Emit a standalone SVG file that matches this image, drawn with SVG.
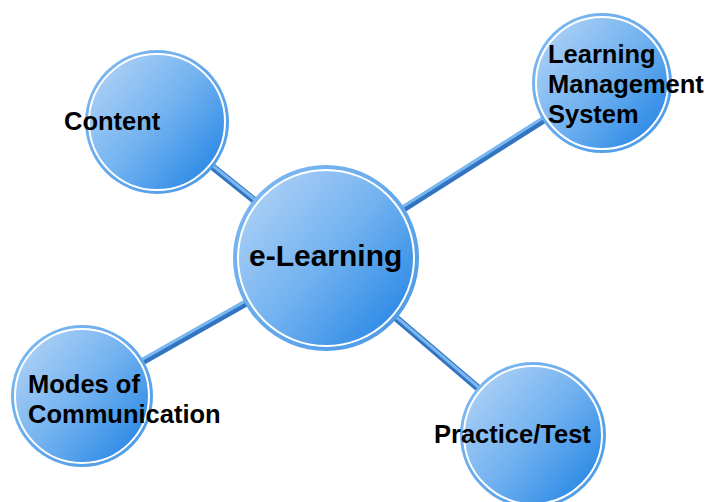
<svg xmlns="http://www.w3.org/2000/svg" width="707" height="502" viewBox="0 0 707 502">
<defs>
<linearGradient id="fillg" x1="0.1" y1="0.15" x2="0.9" y2="0.85">
<stop offset="0" stop-color="#a8cef5"/>
<stop offset="0.5" stop-color="#72b2f0"/>
<stop offset="1" stop-color="#2f8be6"/>
</linearGradient>
<linearGradient id="ringg" x1="0" y1="0" x2="1" y2="1">
<stop offset="0" stop-color="#82bbf2"/>
<stop offset="1" stop-color="#4898e6"/>
</linearGradient>
<style>
.ring{fill:url(#ringg);}
.inner{fill:url(#fillg);stroke:#ffffff;stroke-width:2;}
.lbl{font-family:"Liberation Sans",Arial,sans-serif;font-weight:bold;fill:#000000;font-size:25.5px;}
.edge-o{stroke:#3274bf;stroke-width:7;stroke-linecap:butt;}
.edge-i{stroke:#7ab8f2;stroke-width:3;stroke-linecap:butt;}
</style>
</defs>
<rect width="707" height="502" fill="#ffffff"/>
<g id="connectors">
<line class="edge-o" x1="326" y1="258" x2="157" y2="122"/>
<line class="edge-o" x1="326" y1="258" x2="602" y2="83"/>
<line class="edge-o" x1="326" y1="258" x2="82" y2="396"/>
<line class="edge-o" x1="326" y1="258" x2="533" y2="435"/>
<line class="edge-i" x1="325" y1="256" x2="156" y2="120"/>
<line class="edge-i" x1="325" y1="256" x2="601" y2="81"/>
<line class="edge-i" x1="325" y1="256" x2="81" y2="394"/>
<line class="edge-i" x1="325" y1="256" x2="532" y2="433"/>
</g>
<g id="content">
<circle class="ring" cx="157" cy="122" r="72"/>
<circle class="inner" cx="157" cy="122" r="68"/>
<text class="lbl" x="64" y="130">Content</text>
</g>
<g id="lms">
<circle class="ring" cx="602" cy="83" r="70"/>
<circle class="inner" cx="602" cy="83" r="66"/>
<text class="lbl" x="548" y="63">Learning</text>
<text class="lbl" x="548" y="93">Management</text>
<text class="lbl" x="548" y="123">System</text>
</g>
<g id="elearning">
<circle class="ring" cx="326" cy="258" r="93"/>
<circle class="inner" cx="326" cy="258" r="88"/>
<text class="lbl" x="249" y="266" style="font-size:30px">e-Learning</text>
</g>
<g id="modes">
<circle class="ring" cx="82" cy="396" r="71"/>
<circle class="inner" cx="82" cy="396" r="67"/>
<text class="lbl" x="28" y="393">Modes of</text>
<text class="lbl" x="28" y="423">Communication</text>
</g>
<g id="practice">
<circle class="ring" cx="533" cy="435" r="73"/>
<circle class="inner" cx="533" cy="435" r="69"/>
<text class="lbl" x="434" y="443">Practice/Test</text>
</g>
</svg>
